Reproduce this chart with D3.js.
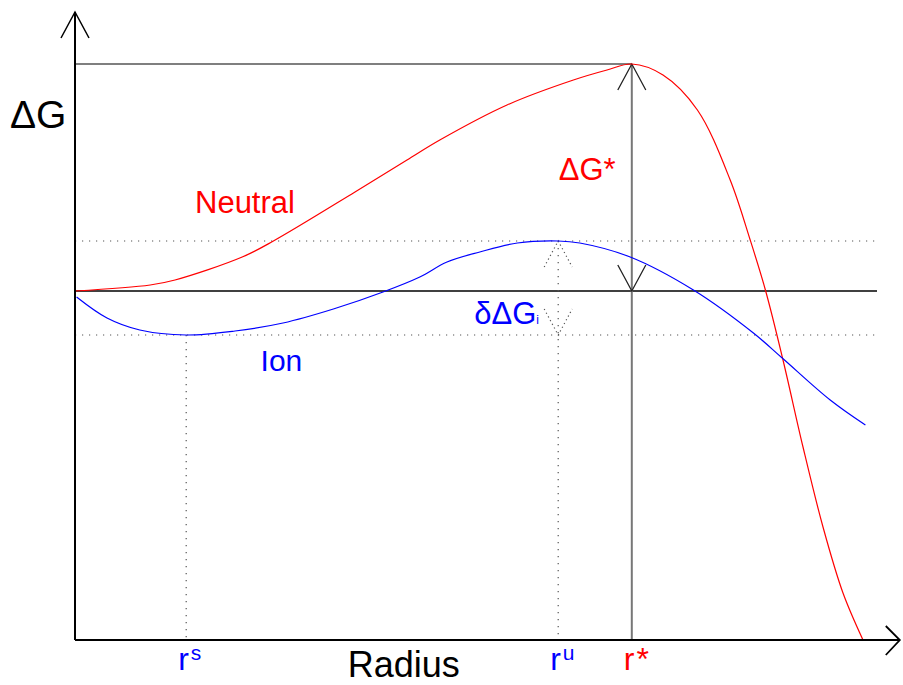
<!DOCTYPE html>
<html>
<head>
<meta charset="utf-8">
<script src="https://cdn.jsdelivr.net/npm/d3@7"></script>
<style>
  body { margin: 0; background: #fff; }
  svg { display: block; font-family: "Liberation Sans", Arial, sans-serif; }
</style>
</head>
<body>
<svg id="chart" width="903" height="685"></svg>
<script>
// radius (arbitrary units) vs free energy (arbitrary units)
const neutralR = [0, 0.94, 1.25, 2.09, 2.48, 3.5, 4.15, 4.56, 5.4, 6.23, 6.65, 6.96, 7.35, 7.78, 8.19, 8.44, 8.63, 8.85, 9.1, 9.35, 9.6, 9.85];
const neutralG = [0, 0.12, 0.22, 0.68, 1.0, 1.98, 2.62, 3.02, 3.72, 4.22, 4.42, 4.54, 4.32, 3.62, 2.22, 1.02, 0.02, -1.38, -3.12, -4.72, -6.04, -6.98];

const ionR = [0.02, 0.4, 0.81, 1.39, 2.0, 2.6, 3.23, 3.85, 4.31, 4.65, 5.06, 5.53, 6.04, 6.31, 6.94, 7.73, 8.48, 8.84, 9.44, 9.88];
const ionG = [-0.12, -0.54, -0.78, -0.88, -0.8, -0.64, -0.36, -0.02, 0.28, 0.58, 0.78, 0.96, 1.0, 0.96, 0.68, 0.02, -0.84, -1.34, -2.18, -2.68];

const rS = 1.39, rU = 6.04, rStar = 6.96;
const gIonMin = -0.88, gIonMax = 1.0, gStar = 4.54;

const svg = d3.select("#chart");
const x = d3.scaleLinear().domain([0, 10]).range([75, 875]);
const y = d3.scaleLinear().domain([-7, 5.6]).range([641, 11]);

const xMin = 0, xAxisEnd = 10.31, xGuideEnd = 10.05, yBottom = -6.98, yTop = 5.58;

const dotted = "1.2,5.8";

// guide lines
const guides = svg.append("g");
guides.append("line")
    .attr("x1", x(xMin)).attr("x2", x(rStar))
    .attr("y1", y(gStar)).attr("y2", y(gStar))
    .attr("stroke", "#000").attr("stroke-width", 1.2);
guides.append("line")
    .attr("x1", x(xMin)).attr("x2", x(xGuideEnd) - 2)
    .attr("y1", y(0)).attr("y2", y(0))
    .attr("stroke", "#000").attr("stroke-width", 1.3);
[gIonMax, gIonMin].forEach(g => {
    guides.append("line")
        .attr("x1", x(xMin)).attr("x2", x(xGuideEnd))
        .attr("y1", y(g)).attr("y2", y(g))
        .attr("stroke", "#555").attr("stroke-width", 1.2)
        .attr("stroke-dasharray", dotted);
});
guides.append("line")
    .attr("x1", x(rS)).attr("x2", x(rS))
    .attr("y1", y(gIonMin)).attr("y2", y(yBottom))
    .attr("stroke", "#555").attr("stroke-width", 1.2)
    .attr("stroke-dasharray", dotted);
guides.append("line")
    .attr("x1", x(rU)).attr("x2", x(rU))
    .attr("y1", y(gIonMax)).attr("y2", y(yBottom))
    .attr("stroke", "#555").attr("stroke-width", 1.2)
    .attr("stroke-dasharray", dotted);
guides.append("line")
    .attr("x1", x(rStar)).attr("x2", x(rStar))
    .attr("y1", y(gStar)).attr("y2", y(yBottom))
    .attr("stroke", "#777").attr("stroke-width", 2);

// arrow heads: tip + direction -> two wings
function wings(g, cx, cy, dir, opts) {
    const dx = 14, dy = 26 * dir;
    g.append("path")
        .attr("d", `M${cx - dx},${cy + dy}L${cx},${cy}L${cx + dx},${cy + dy}`)
        .attr("fill", "none")
        .attr("stroke", opts.color)
        .attr("stroke-width", opts.width)
        .attr("stroke-dasharray", opts.dash || null);
}
wings(guides, x(rStar), y(gStar), 1, {color: "#222", width: 1.3});
wings(guides, x(rStar), y(0), -1, {color: "#222", width: 1.3});
wings(guides, x(rU), y(gIonMax), 1, {color: "#555", width: 1.2, dash: "1.2,3"});
wings(guides, x(rU), y(gIonMin), -1, {color: "#555", width: 1.2, dash: "1.2,3"});

// curves
const line = d3.line()
    .x(d => x(d[0]))
    .y(d => y(d[1]))
    .curve(d3.curveCatmullRom.alpha(0.5));

svg.append("path")
    .attr("d", line(d3.zip(neutralR, neutralG)))
    .attr("fill", "none").attr("stroke", "#ff0000").attr("stroke-width", 1.2);
svg.append("path")
    .attr("d", line(d3.zip(ionR, ionG)))
    .attr("fill", "none").attr("stroke", "#0000ff").attr("stroke-width", 1.2);

// axes
const axes = svg.append("g");
axes.append("line")
    .attr("x1", x(xMin)).attr("x2", x(xMin))
    .attr("y1", y(yBottom)).attr("y2", y(yTop))
    .attr("stroke", "#000").attr("stroke-width", 2);
axes.append("line")
    .attr("x1", x(xMin)).attr("x2", x(xAxisEnd))
    .attr("y1", y(yBottom)).attr("y2", y(yBottom))
    .attr("stroke", "#000").attr("stroke-width", 2.2);
axes.append("path")
    .attr("d", `M${x(xMin) - 14},${y(yTop) + 26}L${x(xMin)},${y(yTop)}L${x(xMin) + 14},${y(yTop) + 26}`)
    .attr("fill", "none").attr("stroke", "#000").attr("stroke-width", 1.5);
axes.append("path")
    .attr("d", `M${x(xAxisEnd) - 14},${y(yBottom) - 14}L${x(xAxisEnd)},${y(yBottom)}L${x(xAxisEnd) - 14},${y(yBottom) + 15}`)
    .attr("fill", "none").attr("stroke", "#000").attr("stroke-width", 1.8);

// labels
svg.append("text")
    .attr("x", x(xMin) - 65).attr("y", y(gStar) + 64)
    .attr("font-size", 39).attr("fill", "#000")
    .text("ΔG");
svg.append("text")
    .attr("x", x(3.41)).attr("y", y(yBottom) + 37)
    .attr("font-size", 36).attr("fill", "#000")
    .text("Radius");

svg.append("text")
    .attr("x", x(1.5)).attr("y", y(1.56))
    .attr("font-size", 31).attr("fill", "#ff0000")
    .text("Neutral");
svg.append("text")
    .attr("x", x(rStar) - 73).attr("y", y(2.22))
    .attr("font-size", 31).attr("fill", "#ff0000")
    .text("ΔG*");
svg.append("text")
    .attr("x", x(2.32)).attr("y", y(-1.6))
    .attr("font-size", 30).attr("fill", "#0000ff")
    .text("Ion");

const dd = svg.append("text")
    .attr("x", x(rU) - 84).attr("y", y(-0.66))
    .attr("font-size", 31).attr("fill", "#0000ff");
dd.append("tspan").text("δΔG");
dd.append("tspan").attr("font-size", 12).text("i");

function rLabel(r, sup, color) {
    const t = svg.append("text")
        .attr("x", x(r) - 8).attr("y", y(yBottom) + 30)
        .attr("font-size", 32).attr("fill", color);
    t.append("tspan").text("r");
    t.append("tspan")
        .attr("font-size", sup === "*" ? 32 : 21)
        .attr("dx", 2)
        .attr("dy", sup === "*" ? 0 : -10)
        .text(sup);
}
rLabel(rS, "s", "#0000ff");
rLabel(rU, "u", "#0000ff");
rLabel(rStar, "*", "#ff0000");
</script>
</body>
</html>
